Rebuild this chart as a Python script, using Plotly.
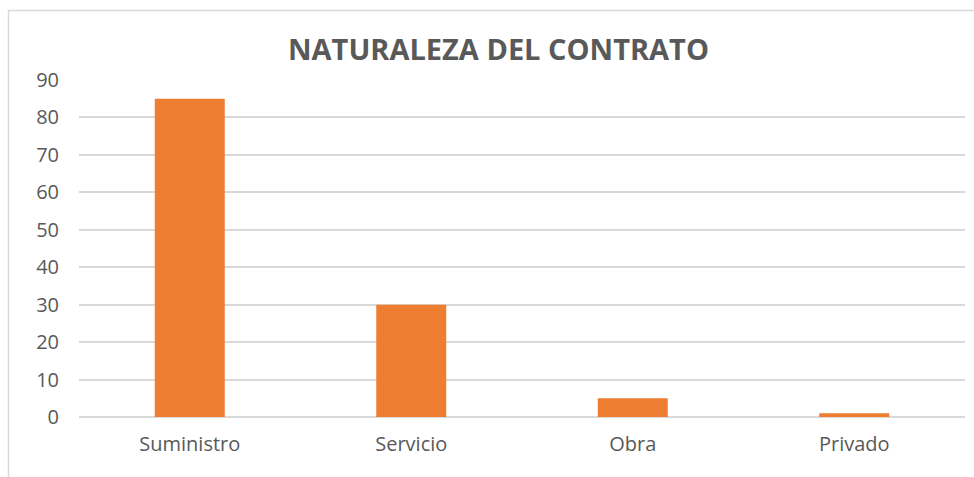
import plotly.graph_objects as go

categories = ["Suministro", "Servicio", "Obra", "Privado"]
values = [85, 30, 5, 1]
y_ticks = [0, 10, 20, 30, 40, 50, 60, 70, 80, 90]

W, H = 974, 477
L, R, T, B = 79, 9, 80, 60
pw, ph = W - L - R, H - T - B

def px_x(x):
    return (x - L) / pw

def px_y(y):
    return (H - B - y) / ph

fig = go.Figure(go.Bar(
    x=categories, y=values,
    marker=dict(color="#ED7D31", line=dict(width=0)),
))

fig.update_layout(
    width=W, height=H,
    margin=dict(l=L, r=R, t=T, b=B),
    paper_bgcolor="white", plot_bgcolor="white",
    bargap=0.684,
    showlegend=False,
    font=dict(family="Open Sans", color="#595959", size=20),
    title=dict(
        text="<b>NATURALEZA DEL CONTRATO</b>",
        x=498.5 / W, xanchor="center", xref="container",
        y=1 - 50 / H, yanchor="middle", yref="container",
        font=dict(family="Open Sans", size=29, color="#595959"),
    ),
    xaxis=dict(
        showgrid=False, showline=False, zeroline=False,
        ticks="", ticklabelstandoff=13,
        tickfont=dict(size=20, color="#595959"),
    ),
    yaxis=dict(
        range=[0, 90], tickvals=y_ticks,
        showgrid=True, gridcolor="#d9d9d9", gridwidth=1.5,
        zeroline=True, zerolinecolor="#d9d9d9", zerolinewidth=1.5,
        showline=False, ticks="", ticklabelstandoff=19,
        tickfont=dict(size=20, color="#595959"),
    ),
    shapes=[dict(
        type="rect", xref="paper", yref="paper",
        x0=px_x(8.5), x1=px_x(990), y0=px_y(10.5), y1=px_y(500),
        line=dict(color="#d9d9d9", width=1.5), fillcolor="rgba(0,0,0,0)",
        layer="below",
    )],
)

fig.write_html("out.html")
